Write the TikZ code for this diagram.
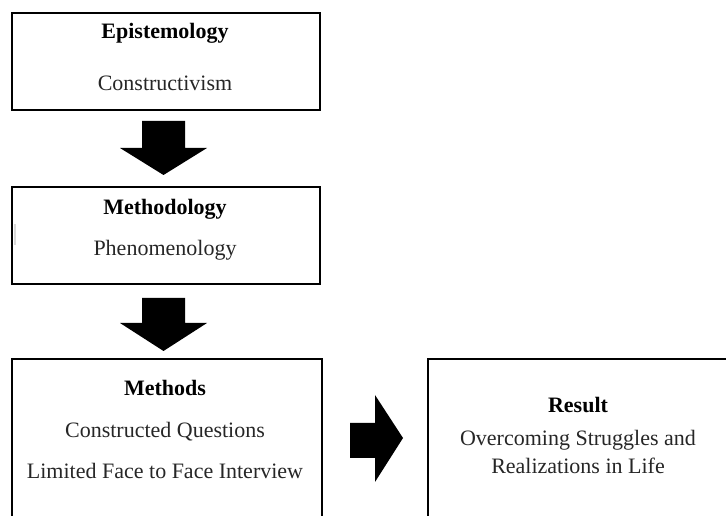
\documentclass[tikz,border=0pt]{standalone}
\usepackage{fontspec}
\setmainfont{Liberation Serif}
\begin{document}
\begin{tikzpicture}[x=0.75pt,y=-0.75pt,
  box/.style={draw=black,line width=2.2pt},
  ttl/.style={font=\fontsize{16.5}{18}\selectfont\bfseries,anchor=center,inner sep=0pt},
  txt/.style={font=\fontsize{16.5}{18}\selectfont,anchor=center,inner sep=0pt,color=black!85},
  bigarrow/.style={fill=black}]
\useasboundingbox (0,0) rectangle (726,516);
\clip (0,0) rectangle (726,516);
% boxes
\draw[box] (12,13) rectangle (320,110);
\draw[box] (12,187) rectangle (320,284);
\draw[box] (12,359) rectangle (322,530);
\draw[box] (428,359) rectangle (740,530);
% faint artifact
\fill[black!15] (14,224) rectangle (16,245);
% texts
\node[ttl] (t1) at (165,33) {Epistemology};
\node[txt] (s1) at (165,83) {Constructivism};
\node[ttl] (t2) at (165,209) {Methodology};
\node[txt] (s2) at (165,250) {Phenomenology};
\node[ttl] (t3) at (165,388) {Methods};
\node[txt] (s3a) at (165,432) {Constructed Questions};
\node[txt] (s3b) at (165,471) {Limited Face to Face Interview};
\node[ttl] (t4) at (578,405) {Result};
\node[txt] (s4a) at (578,440) {Overcoming Struggles and};
\node[txt] (s4b) at (578,466) {Realizations in Life};
% block arrows
\fill[bigarrow] (142,121) -- (185,121) -- (185,148) -- (207,148) -- (163.5,175) -- (120,148) -- (142,148) -- cycle;
\fill[bigarrow] (142,298) -- (185,298) -- (185,323) -- (207,323) -- (163.5,351) -- (120,323) -- (142,323) -- cycle;
\fill[bigarrow] (350,423) -- (375,423) -- (375,395) -- (403,438) -- (375,482) -- (375,458) -- (350,458) -- cycle;
\end{tikzpicture}
\end{document}
